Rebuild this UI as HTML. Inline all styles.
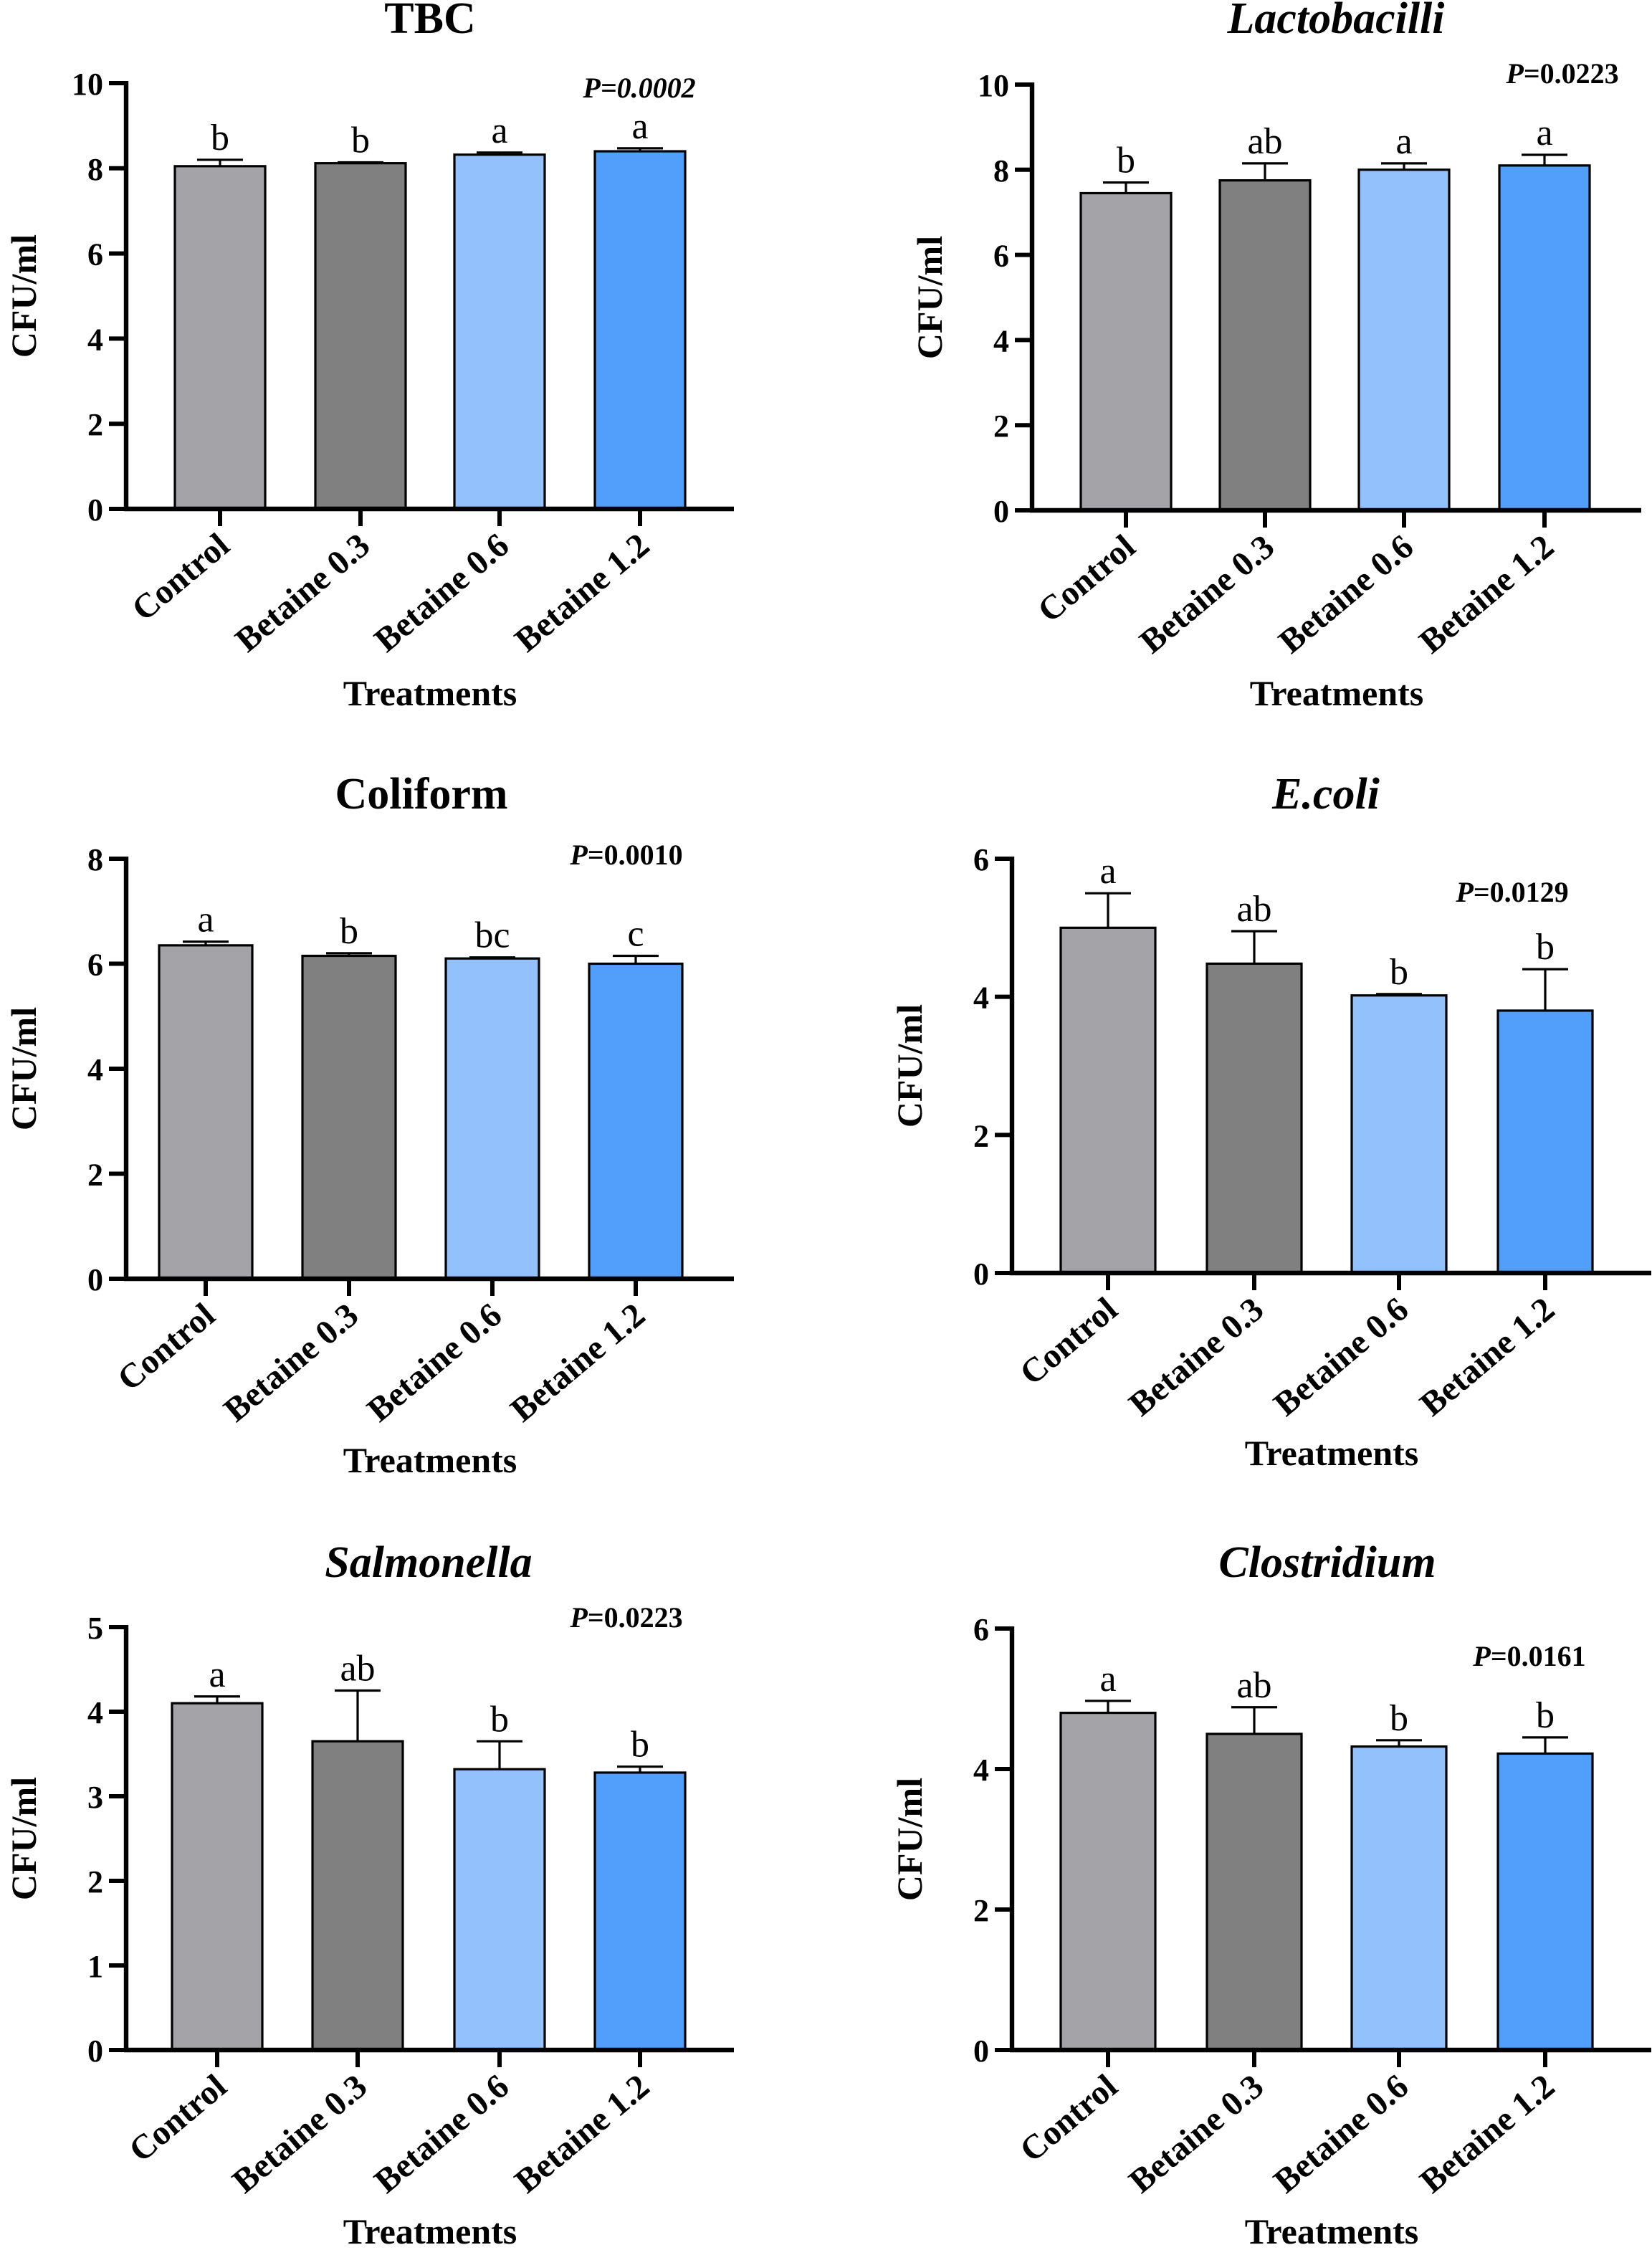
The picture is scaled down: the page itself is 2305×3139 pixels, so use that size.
<!DOCTYPE html>
<html><head><meta charset="utf-8"><style>
html,body{margin:0;padding:0;background:#fff}
svg{display:block}
text{font-family:"Liberation Serif",serif;fill:#000}
</style></head><body>
<svg id="fig" width="2305" height="3139" viewBox="0 0 1152.5 1569.5" xmlns="http://www.w3.org/2000/svg"></svg>
<script>
const categories = ["Control","Betaine 0.3","Betaine 0.6","Betaine 1.2"];
const tbcValues = [8.05, 8.12, 8.32, 8.40];
const tbcErr = [0.15, 0.02, 0.05, 0.07];
const tbcLetters = ["b","b","a","a"];
const tbcTicks = [0,2,4,6,8,10];
const lactoValues = [7.45, 7.75, 8.0, 8.1];
const lactoErr = [0.25, 0.4, 0.15, 0.25];
const lactoLetters = ["b","ab","a","a"];
const lactoTicks = [0,2,4,6,8,10];
const coliValues = [6.35, 6.15, 6.1, 6.0];
const coliErr = [0.07, 0.05, 0.02, 0.15];
const coliLetters = ["a","b","bc","c"];
const coliTicks = [0,2,4,6,8];
const ecoliValues = [5.0, 4.48, 4.02, 3.8];
const ecoliErr = [0.5, 0.47, 0.02, 0.6];
const ecoliLetters = ["a","ab","b","b"];
const ecoliTicks = [0,2,4,6];
const salmValues = [4.1, 3.65, 3.32, 3.28];
const salmErr = [0.08, 0.6, 0.33, 0.07];
const salmLetters = ["a","ab","b","b"];
const salmTicks = [0,1,2,3,4,5];
const clostValues = [4.8, 4.5, 4.32, 4.22];
const clostErr = [0.17, 0.38, 0.09, 0.23];
const clostLetters = ["a","ab","b","b"];
const clostTicks = [0,2,4,6];
const pLabels = ["0.0002","0.0223","0.0010","0.0129","0.0223","0.0161"];

const colors = ["#a3a3a8","#808080","#92c1fc","#519ffb"];
const NS = "http://www.w3.org/2000/svg";
const svg = document.getElementById("fig");
function mk(tag, attrs, parent){
  const e = document.createElementNS(NS, tag);
  for (const k in attrs) e.setAttribute(k, attrs[k]);
  (parent||svg).appendChild(e); return e;
}
const panels = [
  {id:"tbc",title:"TBC",ital:false,ax:88,top:58,bot:355,xend:512,max:10,bx:[122,220,317,415],bw:63,v:tbcValues,e:tbcErr,l:tbcLetters,t:tbcTicks,px:446,py:68,pItalAll:true,tx:300,ty:23,xt:484},
  {id:"lactobacilli",title:"Lactobacilli",ital:true,ax:720,top:59,bot:356,xend:1145,max:10,bx:[754,851,948,1046],bw:63,v:lactoValues,e:lactoErr,l:lactoLetters,t:lactoTicks,px:1090,py:58,tx:932,ty:23,xt:484},
  {id:"coliform",title:"Coliform",ital:false,ax:88,top:599,bot:892,xend:512,max:8,bx:[111,211,311,411],bw:65,v:coliValues,e:coliErr,l:coliLetters,t:coliTicks,px:437,py:603,tx:294,ty:564,xt:1019},
  {id:"ecoli",title:"E.coli",ital:true,ax:706,top:599,bot:888,xend:1152,max:6,bx:[740,842,943,1045],bw:66,v:ecoliValues,e:ecoliErr,l:ecoliLetters,t:ecoliTicks,px:1055,py:629,tx:925,ty:564,xt:1014},
  {id:"salmonella",title:"Salmonella",ital:true,ax:88,top:1135,bot:1430,xend:512,max:5,bx:[120,218,317,415],bw:63,v:salmValues,e:salmErr,l:salmLetters,t:salmTicks,px:437,py:1135,tx:299,ty:1100,xt:1557},
  {id:"clostridium",title:"Clostridium",ital:true,ax:706,top:1136,bot:1430,xend:1152,max:6,bx:[740,842,943,1045],bw:66,v:clostValues,e:clostErr,l:clostLetters,t:clostTicks,px:1067,py:1162,tx:926,ty:1100,xt:1557}
];
panels.forEach((p, pi) => {
  const g = mk("g", {});
  
  
  const y = v => p.bot - (v / p.max) * (p.bot - p.top);
  const cx = (p.ax + p.xend) / 2;
  const tt = mk("text", {x: p.tx, y: p.ty, "text-anchor":"middle", "font-size": 31, "font-weight":"bold", "font-style": p.ital ? "italic" : "normal"}, g);
  tt.textContent = p.title;
  
  
  p.v.forEach((v, i) => {
    const x0 = p.bx[i], cxb = x0 + p.bw/2;
    const ey = y(v + p.e[i]);
    const eb = mk("line", {x1:cxb, x2:cxb, y1:y(v), y2:ey, stroke:"#000","stroke-width":1.6}, g);
    
    
    const cap = mk("line", {x1:cxb-16, x2:cxb+16, y1:ey, y2:ey, stroke:"#000","stroke-width":1.6}, g);
    
    
    const r = mk("rect", {x:x0, y:y(v), width:p.bw, height:p.bot - y(v), fill:colors[i], stroke:"#000", "stroke-width":1.6}, g);
    
    
    const lt = mk("text", {x:cxb, y:ey - 7, "text-anchor":"middle", "font-size":26}, g);
    lt.textContent = p.l[i];
    
    
    mk("line", {x1:cxb, x2:cxb, y1:p.bot, y2:p.bot+12, stroke:"#000","stroke-width":3}, g);
    const cl = mk("text", {x:0, y:0, "text-anchor":"end", "font-size":24, "font-weight":"bold", transform:`translate(${cxb+8},${p.bot+28}) rotate(-40)`}, g);
    cl.textContent = categories[i];
    
    
  });
  const ya = mk("line", {x1:p.ax, x2:p.ax, y1:p.top-1.5, y2:p.bot+1.5, stroke:"#000","stroke-width":3.2}, g);
  
  
  const xa = mk("line", {x1:p.ax-1.5, x2:p.xend, y1:p.bot, y2:p.bot, stroke:"#000","stroke-width":3.2}, g);
  
  
  p.t.forEach(t => {
    mk("line", {x1:p.ax-12, x2:p.ax, y1:y(t), y2:y(t), stroke:"#000","stroke-width":3}, g);
    const tl = mk("text", {x:p.ax-16, y:y(t)+8, "text-anchor":"end", "font-size":22, "font-weight":"bold"}, g);
    tl.textContent = t;
    
    
  });
  const yl = mk("text", {x:0, y:0, "text-anchor":"middle", "font-size":25, "font-weight":"bold", transform:`translate(${p.ax-63},${(p.top+p.bot)/2}) rotate(-90)`}, g);
  yl.textContent = "CFU/ml";
  
  
  const xl = mk("text", {x:cx, y:p.xt + 8, "text-anchor":"middle", "font-size":25, "font-weight":"bold"}, g);
  xl.textContent = "Treatments";
  
  
  const pt = mk("text", {x:p.px, y:p.py, "text-anchor":"middle", "font-size":20, "font-weight":"bold"}, g);
  
  
  const s1 = mk("tspan", {"font-style":"italic"}, pt); s1.textContent = "P";
  const s2 = mk("tspan", p.pItalAll ? {"font-style":"italic"} : {}, pt); s2.textContent = "=" + pLabels[pi];
});
</script>
</body></html>
